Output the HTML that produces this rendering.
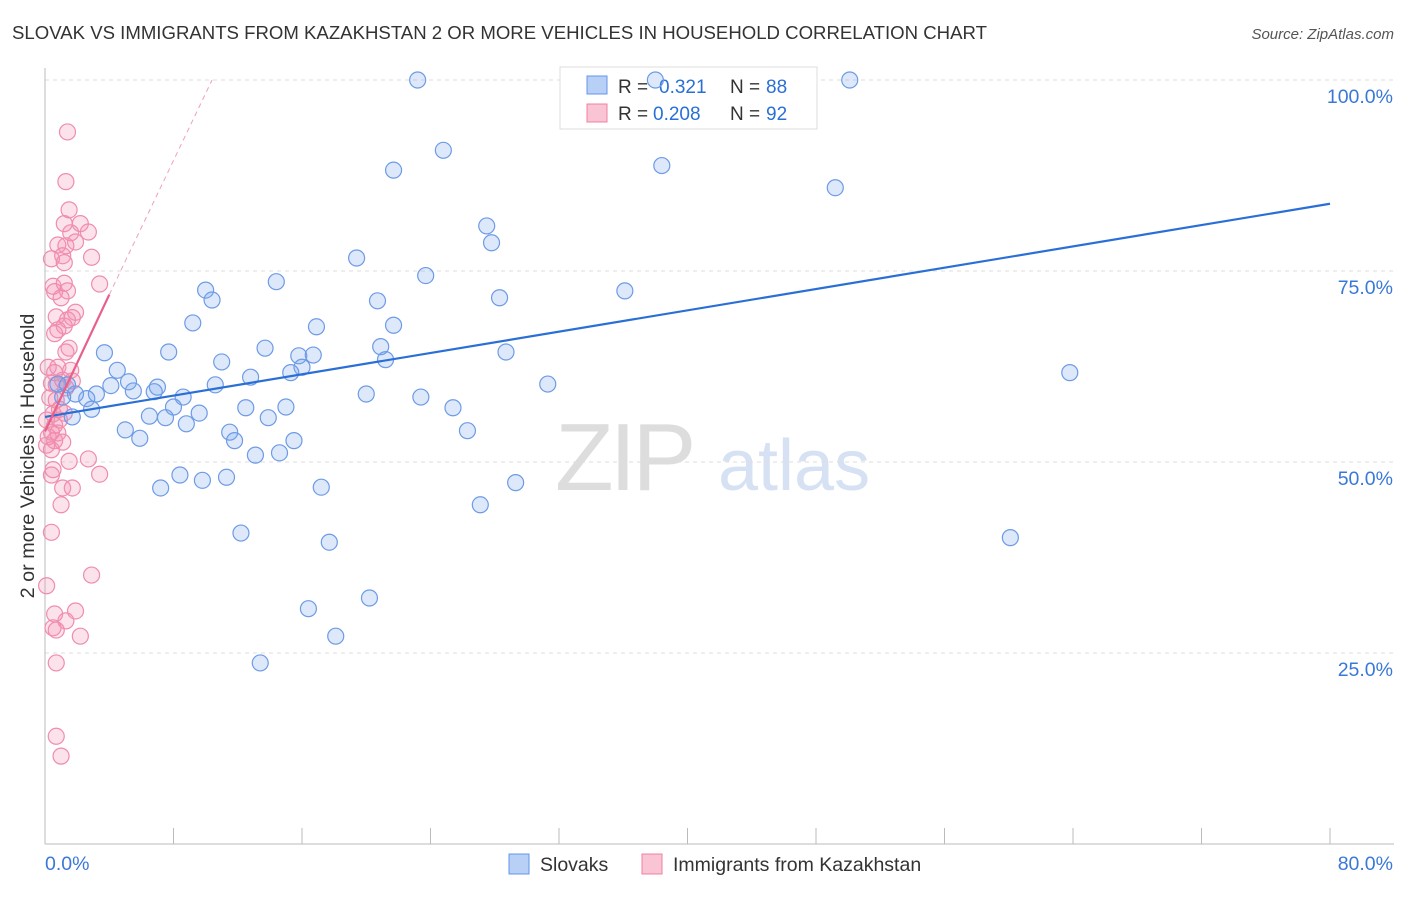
<!DOCTYPE html>
<html><head><meta charset="utf-8"><style>
body{margin:0;background:#fff;font-family:"Liberation Sans",sans-serif}
svg text{font-family:"Liberation Sans",sans-serif}
</style></head><body>
<svg id="chart" width="1406" height="892" xmlns="http://www.w3.org/2000/svg">
<text x="12" y="39" font-size="18.6" fill="#333">SLOVAK VS IMMIGRANTS FROM KAZAKHSTAN 2 OR MORE VEHICLES IN HOUSEHOLD CORRELATION CHART</text>
<text x="1394" y="39" font-size="15" fill="#555" text-anchor="end" font-style="italic">Source: ZipAtlas.com</text>
<g>
<text x="555" y="490" font-size="96" fill="#ddd" font-family="Liberation Serif" letter-spacing="-4">ZIP</text>
<text x="718" y="490" font-size="72" fill="#d6e2f3">atlas</text>
</g>
<g id="grid"></g>
<g id="axes"></g>
<g>
<rect x="560" y="67" width="257" height="62" fill="#fff" stroke="#ddd"/>
<rect x="587" y="76" width="20" height="18" fill="#b8d0f5" stroke="#6495ed"/>
<rect x="587" y="104" width="20" height="18" fill="#f9c4d4" stroke="#f080a0"/>
<text x="618" y="93" font-size="19" fill="#333">R =</text>
<text x="659" y="93" font-size="19" fill="#2a6fd6">0.321</text>
<text x="730" y="93" font-size="19" fill="#333">N =</text>
<text x="766" y="93" font-size="19" fill="#2a6fd6">88</text>
<text x="618" y="120" font-size="19" fill="#333">R =</text>
<text x="653" y="120" font-size="19" fill="#2a6fd6">0.208</text>
<text x="730" y="120" font-size="19" fill="#333">N =</text>
<text x="766" y="120" font-size="19" fill="#2a6fd6">92</text>
</g>
<g id="marks"></g>
<text transform="translate(34,456) rotate(-90)" font-size="19.8" fill="#333" text-anchor="middle">2 or more Vehicles in Household</text>
<g>
<rect x="509" y="854" width="20" height="20" fill="#b8d0f5" stroke="#6495ed"/>
<text x="540" y="871" font-size="19.5" fill="#333">Slovaks</text>
<rect x="642" y="854" width="20" height="20" fill="#f9c4d4" stroke="#f080a0"/>
<text x="673" y="871" font-size="19.5" fill="#333">Immigrants from Kazakhstan</text>
</g>
</svg>
<script>
const yTicks=[25,50,75,100];
const yTickLabels=["25.0%","50.0%","75.0%","100.0%"];
const xTicks=[0,8,16,24,32,40,48,56,64,72,80];
const blueX=[23.2,38.0,50.1,24.8,21.7,38.4,49.2,27.5,27.8,19.4,23.7,14.4,10.0,10.4,28.3,36.1,20.7,9.2,16.9,21.7,3.7,7.7,13.7,20.9,15.8,16.7,11.0,21.2,16.0,15.3,12.8,28.7,31.3,63.8,4.5,5.2,4.1,5.5,7.0,6.8,8.6,10.6,20.0,23.4,3.2,2.6,1.9,8.0,6.5,7.5,9.6,12.5,15.0,25.4,1.7,2.9,8.8,5.0,5.9,11.5,11.8,13.9,15.5,26.3,13.1,14.6,8.4,9.8,11.3,7.2,17.2,29.3,27.1,12.2,17.7,60.1,20.2,16.4,18.1,13.4,1.1,0.8,1.4];
const blueY=[100,100,100,90.8,88.2,88.8,85.9,80.9,78.7,76.7,74.4,73.6,72.5,71.2,71.5,72.4,71.1,68.2,67.7,67.9,64.3,64.4,64.9,65.1,63.9,64.0,63.1,63.4,62.4,61.7,61.1,64.4,60.2,61.7,62.0,60.5,60.0,59.3,59.8,59.2,58.5,60.1,58.9,58.5,58.9,58.3,58.9,57.2,56.0,55.8,56.4,57.1,57.2,57.1,55.9,56.9,55.0,54.2,53.1,53.9,52.8,55.8,52.8,54.1,50.9,51.2,48.3,47.6,48.0,46.6,46.7,47.3,44.4,40.7,39.5,40.1,32.2,30.8,27.2,23.7,58.5,60.2,60.1];
const pinkX=[1.4,1.3,1.5,1.2,2.2,1.6,2.7,0.8,1.9,1.3,1.1,0.4,1.2,2.9,3.4,0.5,1.2,0.6,1.4,1.0,1.9,1.7,0.7,1.4,1.2,0.8,0.6,1.5,1.3,0.2,0.8,1.6,0.6,1.1,1.7,0.4,0.7,1.3,0.3,0.7,0.9,0.5,1.2,0.1,0.9,0.6,0.4,0.8,0.2,0.6,1.1,0.4,0.1,2.7,1.5,0.5,0.4,3.4,1.1,1.7,1.0,0.4,2.9,0.1,1.9,0.6,1.3,0.5,0.7,2.2,0.7,0.7,1.0];
const pinkY=[93.2,86.7,83.0,81.2,81.2,80.0,80.1,78.4,78.8,78.3,77.0,76.6,76.1,76.8,73.3,73.0,73.4,72.3,72.4,71.5,69.6,68.9,69.0,68.6,67.8,67.3,66.8,64.9,64.4,62.4,62.4,62.0,61.7,60.7,60.6,60.3,60.1,59.7,58.4,58.1,56.9,56.3,56.4,55.5,55.5,54.8,53.9,53.8,53.3,52.8,52.6,51.6,52.2,50.4,50.1,49.0,48.3,48.4,46.6,46.6,44.4,40.8,35.2,33.8,30.5,30.1,29.2,28.3,28.0,27.2,23.7,14.1,11.5];
const blueTrend=[[0,55.9],[80,83.8]];
const pinkTrend=[[0,54.0],[4.0,71.9]];
const pinkDash=[[4.0,71.9],[10.4,100]];
const NS="http://www.w3.org/2000/svg";
const X0=45,X1=1330,Y0=844,Y100=80;
const sx=v=>X0+(v/80)*(X1-X0);
const sy=v=>Y0-(v/100)*(Y0-Y100);
function el(tag,attrs,parent){const e=document.createElementNS(NS,tag);for(const k in attrs)e.setAttribute(k,attrs[k]);parent.appendChild(e);return e;}
const grid=document.getElementById('grid'),axes=document.getElementById('axes'),marks=document.getElementById('marks');
yTicks.forEach((t,i)=>{
 const l=el('line',{x1:X0,x2:1394,y1:sy(t),y2:sy(t),stroke:'#ddd','stroke-dasharray':'4,4'},grid);
 
 
 const tx=el('text',{x:1393,y:sy(t)+23,'font-size':19.5,fill:'#3a78d8','text-anchor':'end'},axes);
 tx.textContent=yTickLabels[i];
 
 
});
const xa=el('line',{x1:X0,x2:1394,y1:Y0,y2:Y0,stroke:'#bbb'},axes);


const ya=el('line',{x1:X0,x2:X0,y1:68,y2:Y0,stroke:'#bbb'},axes);


xTicks.forEach(t=>{
 const k=el('line',{x1:sx(t),x2:sx(t),y1:Y0,y2:Y0-16,stroke:'#bbb'},axes);
 
 
});
const xl0=el('text',{x:45,y:870,'font-size':19.5,fill:'#3a78d8'},axes);xl0.textContent="0.0%";


const xl1=el('text',{x:1393,y:870,'font-size':19.5,fill:'#3a78d8','text-anchor':'end'},axes);xl1.textContent="80.0%";


pinkX.forEach((v,i)=>{
 const c=el('circle',{cx:sx(v),cy:sy(pinkY[i]),r:8,fill:'rgba(244,143,177,0.25)',stroke:'#f08cae','stroke-width':1.2},marks);
 
 
});
blueX.forEach((v,i)=>{
 const c=el('circle',{cx:sx(v),cy:sy(blueY[i]),r:8,fill:'rgba(120,165,235,0.25)',stroke:'#6d9be6','stroke-width':1.2},marks);
 
 
});
const bt=el('line',{x1:sx(blueTrend[0][0]),y1:sy(blueTrend[0][1]),x2:sx(blueTrend[1][0]),y2:sy(blueTrend[1][1]),stroke:'#2a6fd6','stroke-width':2.2},marks);


const pt=el('line',{x1:sx(pinkTrend[0][0]),y1:sy(pinkTrend[0][1]),x2:sx(pinkTrend[1][0]),y2:sy(pinkTrend[1][1]),stroke:'#e8608a','stroke-width':2.2},marks);


const pd=el('line',{x1:sx(pinkDash[0][0]),y1:sy(pinkDash[0][1]),x2:sx(pinkDash[1][0]),y2:sy(pinkDash[1][1]),stroke:'#f0a0b8','stroke-width':1,'stroke-dasharray':'5,4'},marks);


</script>
</body></html>
